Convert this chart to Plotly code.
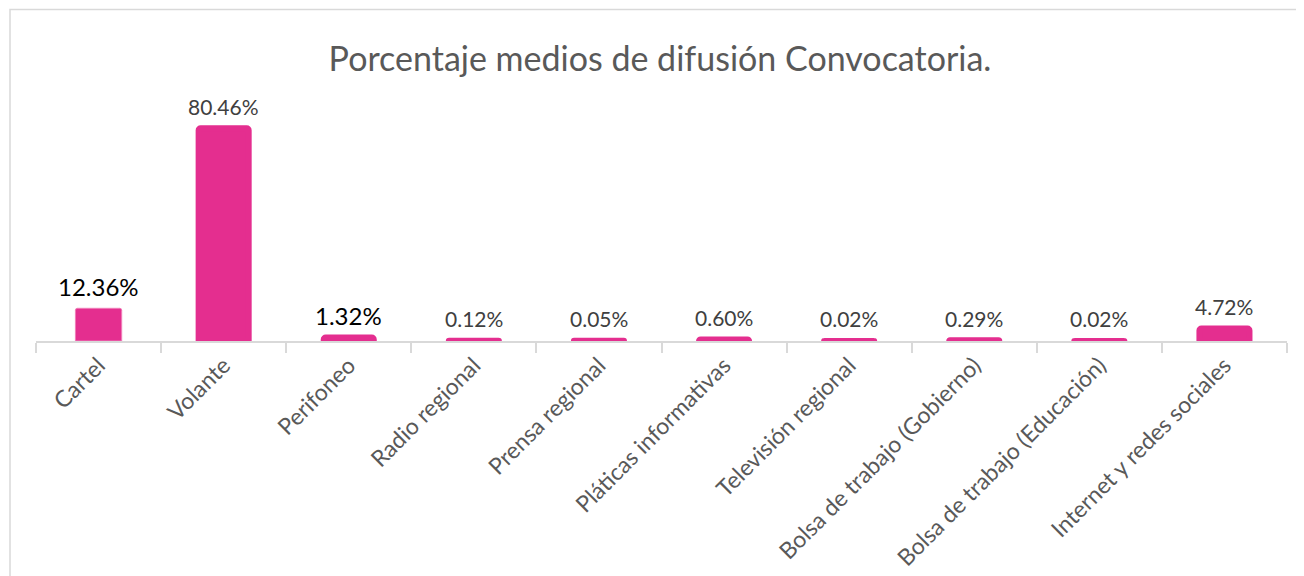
import plotly.graph_objects as go

categories = ["Cartel", "Volante", "Perifoneo", "Radio regional", "Prensa regional",
              "Pláticas informativas", "Televisión regional", "Bolsa de trabajo (Gobierno)",
              "Bolsa de trabajo (Educación)", "Internet y redes sociales"]
values = [12.36, 80.46, 1.32, 0.12, 0.05, 0.60, 0.02, 0.29, 0.02, 4.72]
labels = ["12.36%", "80.46%", "1.32%", "0.12%", "0.05%", "0.60%", "0.02%", "0.29%", "0.02%", "4.72%"]

PINK = "#E42E8F"
label_colors = ["#000000", "#404040", "#000000"] + ["#404040"] * 7
label_sizes = [24, 21, 24] + [21] * 7
line_widths = [1] + [6] * 9
line_colors = ["#F07DB8"] + [PINK] * 9
bar_widths = [0.37] + [0.40] * 9

# page offset (body margin) is 8px; plot area target: x 36..1287, y 99..341 in screen pixels
OFF = 8
L, R, T, B = 36 - OFF, 1304 - (1287 - OFF), 99 - OFF, 576 - (341 - OFF)
PW, PH = 1304 - L - R, 576 - T - B

fig = go.Figure()
fig.add_trace(go.Bar(
    x=categories, y=values,
    marker=dict(color=PINK, line=dict(color=line_colors, width=line_widths), cornerradius=2),
    width=bar_widths, cliponaxis=False, hoverinfo="skip",
))

for cat, val, lab, col, sz in zip(categories, values, labels, label_colors, label_sizes):
    fig.add_annotation(x=cat, y=val, text=lab, showarrow=False, yanchor="middle", yshift=22,
                       font=dict(family="Lato", size=sz, color=col))

fig.add_shape(type="rect", xref="paper", yref="paper",
              x0=(10 - 36) / PW, x1=(1299 - 36) / PW,
              y0=-1.2, y1=(341 - 9.5) / PH,
              line=dict(color="#D9D9D9", width=1.5), fillcolor="rgba(0,0,0,0)", layer="below")

fig.update_layout(
    width=1304, height=576,
    margin=dict(l=L, r=R, t=T, b=B),
    paper_bgcolor="white", plot_bgcolor="white",
    title=dict(text="Porcentaje medios de difusión Convocatoria.", x=(660 - OFF) / 1304, xanchor="center",
               y=1 - (59 - OFF) / 576, yanchor="middle",
               font=dict(family="Lato", size=34, color="#595959")),
    showlegend=False,
)
fig.update_xaxes(
    type="category", tickangle=-45, tickson="boundaries", ticks="outside",
    ticklen=10, tickwidth=1.5, tickcolor="#D9D9D9",
    showline=True, linecolor="#D9D9D9", linewidth=2,
    tickfont=dict(family="Lato", size=23, color="#595959"),
    showgrid=False, zeroline=False,
)
fig.update_yaxes(range=[0, 91.5], visible=False, showgrid=False, zeroline=False)

fig.write_html("out.html")
